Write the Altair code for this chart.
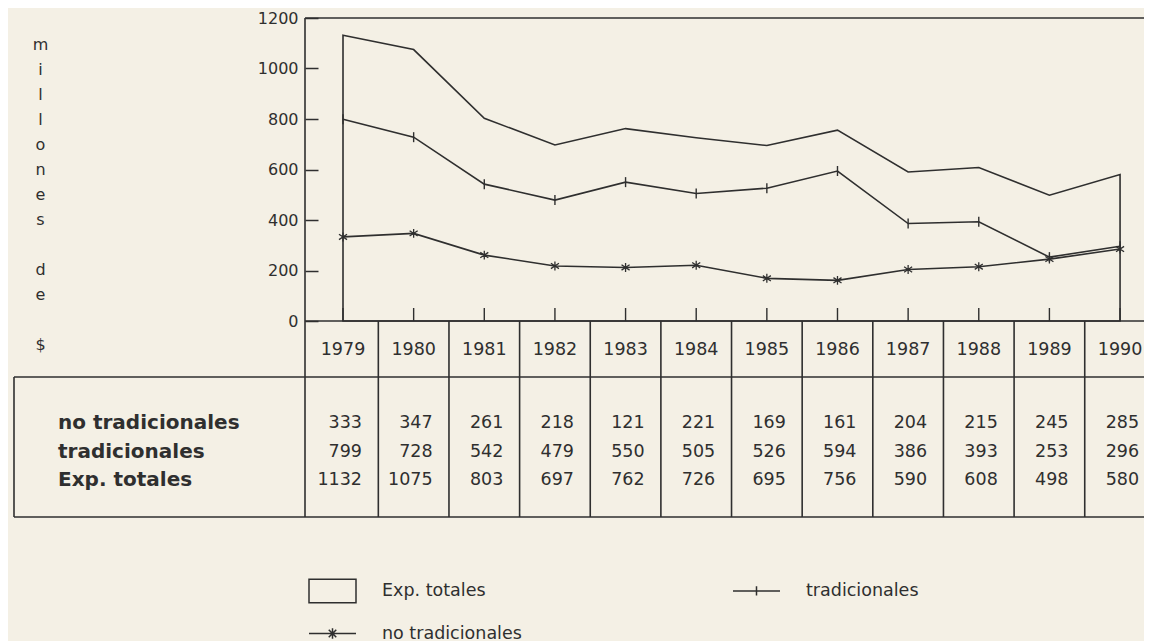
import altair as alt
import pandas as pd

# ---------------- data ----------------
anios = [1979, 1980, 1981, 1982, 1983, 1984, 1985, 1986, 1987, 1988, 1989, 1990]
no_tradicionales = [333, 347, 261, 218, 121, 221, 169, 161, 204, 215, 245, 285]
tradicionales = [799, 728, 542, 479, 550, 505, 526, 594, 386, 393, 253, 296]
exp_totales = [1132, 1075, 803, 697, 762, 726, 695, 756, 590, 608, 498, 580]
# the drawn curve passes near 212 in 1983 (the table prints 121)
no_tradicionales_curva = [333, 347, 261, 218, 212, 221, 169, 161, 204, 215, 245, 285]

y_ticks = [0, 200, 400, 600, 800, 1000, 1200]
BLANK = "\u2800"
y_titulo = ["m", "i", "l", "l", "o", "n", "e", "s", BLANK, "d", "e", BLANK, "$"]
series = ["Exp. totales", "tradicionales", "no tradicionales"]
filas_tabla = ["no tradicionales", "tradicionales", "Exp. totales"]

# ---------------- layout / style ----------------
FONT = "DejaVu Sans"
INK = "#2f2f2f"
BG = "#f4f0e5"
W, H = 1130, 499
AX_X = 291        # plot-left frame (px inside view)
BASE = 303        # y pixel of value 0
ROW_YEAR = 332
ROW_BOTTOM_YEARS = 359
ROWS_Y = [405, 433.5, 462]
LW = 1.6

x_scale = alt.Scale(domain=[1978.462, 1990.339], range=[AX_X, W])
y_scale = alt.Scale(domain=[0, 1200], range=[BASE, 0])

y_axis = alt.Axis(
    values=y_ticks, format="d", orient="left", offset=-(AX_X + 13), tickSize=13,
    domain=False, grid=False, labelPadding=7, labelFont=FONT, labelFontSize=16,
    labelColor=INK, tickColor=INK, tickWidth=1.5,
    title=y_titulo, titleAngle=0, titleAlign="center", titleBaseline="top",
    titleX=-(AX_X + 13 - 26), titleY=18, titleLineHeight=25, titleFont=FONT,
    titleFontSize=16, titleFontWeight="normal", titleColor=INK,
)


def X():
    return alt.X("anio:Q", scale=x_scale, axis=None)


def Y():
    return alt.Y("valor:Q", scale=y_scale, axis=y_axis)


def serie_df(vals):
    return pd.DataFrame({"anio": anios, "valor": vals})


# ---------------- series ----------------
area_tot = alt.Chart(serie_df(exp_totales)).mark_area(
    fillOpacity=0, stroke=INK, strokeWidth=LW
).encode(x=X(), y=Y())

line_trad = alt.Chart(serie_df(tradicionales)).mark_line(
    color=INK, strokeWidth=LW
).encode(x=X(), y=Y())
pts_trad = alt.Chart(serie_df(tradicionales)).mark_point(
    shape="M0,-1L0,1", size=100, filled=False, color=INK, strokeWidth=1.4, opacity=1
).encode(x=X(), y=Y())

line_notrad = alt.Chart(serie_df(no_tradicionales_curva)).mark_line(
    color=INK, strokeWidth=LW
).encode(x=X(), y=Y())
pts_notrad = alt.Chart(serie_df(no_tradicionales_curva)).mark_point(
    shape="M0,-1L0,1M-0.9,-0.6L0.9,0.6M-0.9,0.6L0.9,-0.6", size=80,
    filled=False, color=INK, strokeWidth=1.3, opacity=1
).encode(x=X(), y=Y())

# ---------------- frame and table grid ----------------
one = pd.DataFrame({"k": [0]})


def hrule(x0, x1, y):
    return alt.Chart(one).mark_rule(color=INK, strokeWidth=LW).encode(
        x=alt.value(x0), x2=alt.value(x1), y=alt.value(y))


def vrule(x, y0, y1):
    return alt.Chart(one).mark_rule(color=INK, strokeWidth=LW).encode(
        x=alt.value(x), y=alt.value(y0), y2=alt.value(y1))


frame = [
    hrule(AX_X, W, 0),            # top frame
    vrule(AX_X, 0, H),            # left frame / label column divider
    hrule(AX_X, W, BASE),         # baseline
    hrule(0, W, ROW_BOTTOM_YEARS),
    hrule(0, W, H),
    vrule(0, ROW_BOTTOM_YEARS, H),
]

sep_df = pd.DataFrame({"anio": [a + 0.5 for a in anios[:-1]]})
separators = alt.Chart(sep_df).mark_rule(color=INK, strokeWidth=LW).encode(
    x=X(), y=alt.value(BASE), y2=alt.value(H))

tick_df = pd.DataFrame({"anio": anios})
year_ticks = alt.Chart(tick_df).mark_rule(color=INK, strokeWidth=1.4).encode(
    x=X(), y=alt.value(BASE), y2=alt.value(BASE - 13))

# ---------------- table text ----------------
year_df = pd.DataFrame({"anio": anios, "txt": [str(a) for a in anios]})
year_text = alt.Chart(year_df).mark_text(
    font=FONT, fontSize=17.5, color=INK, align="center", baseline="middle"
).encode(x=X(), y=alt.value(ROW_YEAR), text="txt:N")

table_layers = []
for nombre, vals, ypx in zip(filas_tabla, [no_tradicionales, tradicionales, exp_totales], ROWS_Y):
    dfv = pd.DataFrame({"anio": anios, "txt": [str(v) for v in vals]})
    table_layers.append(
        alt.Chart(dfv).mark_text(
            font=FONT, fontSize=17.5, color=INK, align="right", baseline="middle", dx=19
        ).encode(x=X(), y=alt.value(ypx), text="txt:N")
    )
    table_layers.append(
        alt.Chart(pd.DataFrame({"lbl": [nombre]})).mark_text(
            font=FONT, fontSize=20, fontWeight="bold", color=INK, align="left",
            baseline="middle"
        ).encode(x=alt.value(44), y=alt.value(ypx), text="lbl:N")
    )

# ---------------- legend (invisible carrier layer) ----------------
leg_df = pd.DataFrame({
    "anio": [anios[0]] * 3,
    "valor": [exp_totales[0], tradicionales[0], no_tradicionales[0]],
    "serie": series,
})
shapes = [
    "M-1,-0.5L1,-0.5L1,0.5L-1,0.5Z",
    "M-1,-0.5M-1,0.5M-1,0L1,0M0,-0.2L0,0.2",
    "M-1,-0.5M-1,0.5M-1,0L1,0M0,-0.22L0,0.22M-0.16,-0.16L0.16,0.16M-0.16,0.16L0.16,-0.16",
]
legend_layer = alt.Chart(leg_df).mark_point(
    opacity=0, filled=False, color=INK
).encode(
    x=X(), y=Y(),
    shape=alt.Shape(
        "serie:N",
        scale=alt.Scale(domain=series, range=shapes),
        legend=alt.Legend(
            title=None, orient="none", legendX=294, legendY=548, columns=2,
            direction="horizontal", padding=0, rowPadding=3, columnPadding=208,
            labelOffset=25, labelFont=FONT, labelFontSize=17.5, labelColor=INK,
            symbolSize=2209, symbolStrokeWidth=1.5, symbolStrokeColor=INK,
            symbolFillColor="transparent", symbolOpacity=1,
        ),
    ),
)

chart = alt.layer(
    *frame, separators, year_ticks, area_tot, line_trad, pts_trad,
    line_notrad, pts_notrad, year_text, *table_layers, legend_layer,
).properties(
    width=W, height=H,
    autosize=alt.AutoSizeParams(type="none"),
    padding={"left": 6, "top": 10, "right": 0, "bottom": 132},
    background=BG,
).configure_view(stroke=None)

chart.save("out.html", embed_options={"renderer": "svg", "actions": False})
